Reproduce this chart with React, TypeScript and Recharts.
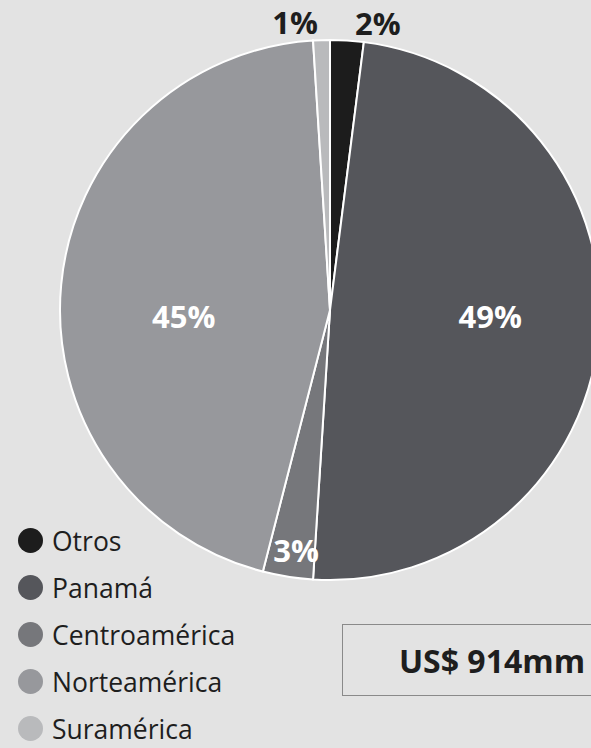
import { Cell, Pie, PieChart } from 'recharts'

const regions = ['Otros', 'Panamá', 'Centroamérica', 'Norteamérica', 'Suramérica']
const shares = [2, 49, 3, 45, 1]
const colors = ['#1c1c1c', '#55565b', '#76777b', '#97989c', '#b9babc']
const totalLabel = 'US$ 914mm'

const data = regions.map((name, i) => ({ name, value: shares[i] }))

const RAD = Math.PI / 180
const font = '"Open Sans", sans-serif'

// small slices get their label outside, medium ones near the rim, big ones on the centre line
function renderLabel(props: any) {
  const { cx, cy, midAngle, outerRadius, percent, value } = props
  const cos = Math.cos(-midAngle * RAD)
  const sin = Math.sin(-midAngle * RAD)
  if (percent < 0.025) {
    const r = outerRadius + 18
    const x = cx + r * cos + (cos >= 0 ? 7 : -3)
    const y = cy + r * sin
    return (
      <text
        x={x}
        y={y}
        fill="#1e1e1e"
        fontSize={31}
        fontWeight={700}
        fontFamily={font}
        textAnchor={cos >= 0 ? 'start' : 'end'}
        dominantBaseline="central"
      >
        {value}%
      </text>
    )
  }
  const small = percent < 0.05
  const r = small ? outerRadius * 0.9 : outerRadius * 0.57
  return (
    <text
      x={cx + r * cos + (small ? 4 : 7)}
      y={small ? cy + r * sin : cy + 6}
      fill="#ffffff"
      fontSize={31}
      fontWeight={700}
      fontFamily={font}
      textAnchor="middle"
      dominantBaseline="central"
    >
      {value}%
    </text>
  )
}

export default function App() {
  return (
    <div
      style={{
        position: 'absolute',
        left: 0,
        top: 0,
        width: 591,
        height: 748,
        background: '#e3e3e3',
        overflow: 'hidden',
      }}
    >
      <PieChart width={591} height={748} margin={{ top: 0, right: 0, bottom: 0, left: 0 }}>
        <Pie
          data={data}
          dataKey="value"
          nameKey="name"
          cx={330}
          cy={310}
          outerRadius={270}
          startAngle={90}
          endAngle={-270}
          stroke="#ffffff"
          strokeWidth={2}
          label={renderLabel}
          labelLine={false}
          isAnimationActive={false}
        >
          {data.map((d, i) => (
            <Cell key={d.name} fill={colors[i]} />
          ))}
        </Pie>
      </PieChart>
      {/* legend */}
      <div style={{ position: 'absolute', left: 18, top: 517, fontFamily: font }}>
        {data.map((d, i) => (
          <div key={d.name} style={{ display: 'flex', alignItems: 'center', height: 47 }}>
            <span
              style={{
                width: 25,
                height: 25,
                borderRadius: '50%',
                background: colors[i],
                marginRight: 9,
                display: 'inline-block',
              }}
            />
            <span style={{ fontSize: 26.5, color: '#1e1e1e' }}>{d.name}</span>
          </div>
        ))}
      </div>
      <div
        style={{
          position: 'absolute',
          left: 342,
          top: 624,
          width: 300,
          height: 72,
          border: '1px solid #8a8a8a',
          boxSizing: 'border-box',
          display: 'flex',
          alignItems: 'center',
          justifyContent: 'center',
          fontFamily: font,
          fontWeight: 700,
          fontSize: 32,
          color: '#1e1e1e',
        }}
      >
        {totalLabel}
      </div>
    </div>
  )
}
